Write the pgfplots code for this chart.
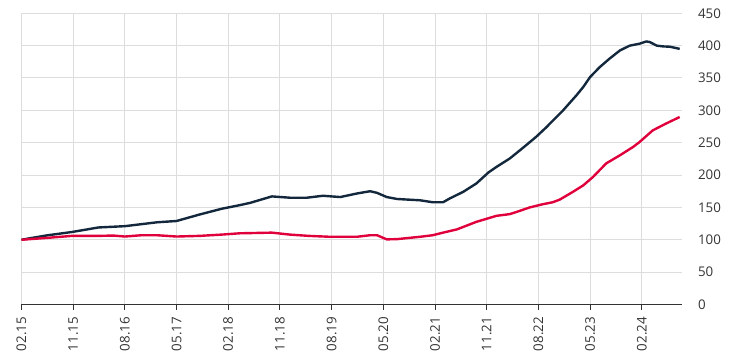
\documentclass[border=0pt]{standalone}
\usepackage{fontspec}
\setmainfont{Open Sans}
\usepackage{pgfplots}
\pgfplotsset{compat=1.18}
\definecolor{navy}{HTML}{14283D}
\definecolor{crimson}{HTML}{E0003C}
\definecolor{gridc}{HTML}{DDDDDD}
\definecolor{txt}{HTML}{333333}
\begin{document}
\begin{tikzpicture}
\useasboundingbox (0,0) rectangle (551.25pt,266.25pt);
\begin{axis}[
  at={(16.1pt,37.9pt)}, anchor=south west,
  scale only axis, width=495.4pt, height=218.4pt,
  xmin=0, xmax=115, ymin=0, ymax=450,
  xtick={0,9,...,108},
  xticklabels={02.15,11.15,08.16,05.17,02.18,11.18,08.19,05.20,02.21,11.21,08.22,05.23,02.24},
  xticklabel style={rotate=90, anchor=east, font=\fontsize{10}{12}\selectfont, text=txt, xshift=-2pt},
  ytick={0,50,...,450},
  yticklabel pos=right,
  yticklabel style={anchor=west, font=\fontsize{10}{12}\selectfont, text=txt, xshift=4.5pt},
  /pgf/number format/assume math mode=true,
  grid=major,
  major grid style={gridc, line width=0.75pt},
  axis y line*=right,
  axis x line*=bottom,
  y axis line style={draw=none},
  x axis line style={txt, line width=0.75pt},
  ytick style={draw=none},
  xtick style={txt, line width=0.75pt},
  tick align=outside,
  major tick length=4pt,
  clip=false,
]
\addplot[navy, line width=1.8pt, line join=round] coordinates {
(0,100)(1.9,103)(4.6,107)(8.8,112)(13.4,119)(18,121)(23.6,127)(27,129)(31,139)(34.9,148)(38,153.5)(39.8,157)(43.6,167)(46.7,165)(49.7,165)(52.5,168)(55.5,166)(58.4,171.5)(60.7,175)(61.9,172.5)(63.6,166)(65.4,163)(69.4,161)(71.6,158)(73.4,158)(74.6,164)(76.9,174)(79.2,187)(81.3,204)(82.7,212.6)(85,225.5)(87.3,242)(89.6,259)(91.4,274)(92,279.5)(94.3,300)(96.6,323)(97.8,336)(99,351.5)(100.7,367)(102.4,380)(104.2,392.6)(105.9,400)(107.6,403)(108.8,406.5)(109.4,405.5)(110.6,400)(111.7,398.8)(112.9,398.3)(114.6,395)
};
\addplot[crimson, line width=1.8pt, line join=round] coordinates {
(0,100)(4.6,103)(8.8,106)(13.4,106)(16,106.5)(18,105)(20.9,107)(23.6,107)(27,105)(31,106)(34.9,108)(38,110)(43.6,111)(46.7,108)(50,106)(53.7,104.6)(58.4,104.6)(60.7,107)(61.9,107)(63.6,100.6)(65.4,101)(69.4,104.6)(71.6,107)(73.4,111)(75.8,116)(79.2,127.7)(82.7,137)(85,139.6)(86.2,143)(88.5,150)(90.8,155)(92.5,158)(93.7,162)(96,174)(97.8,184)(99.5,197)(101.8,218)(104.2,230.6)(106.5,243.5)(107.6,251)(109.9,269)(112.2,279.5)(114.6,289.7)
};
\end{axis}
\end{tikzpicture}
\end{document}
